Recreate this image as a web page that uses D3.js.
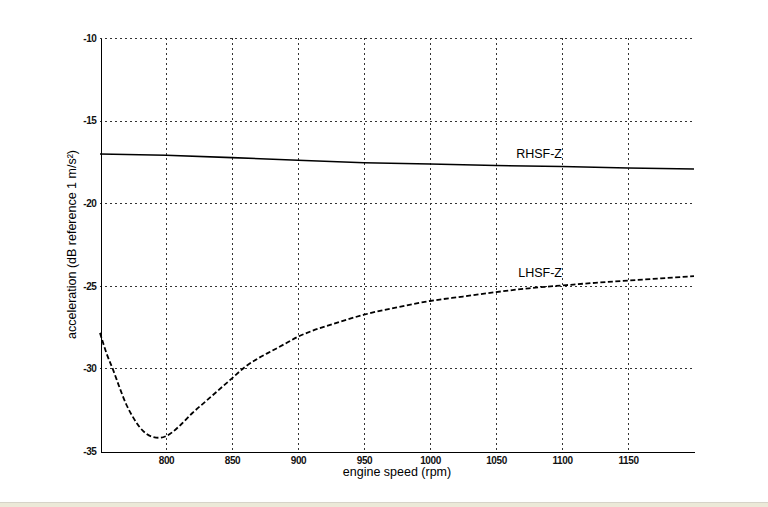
<!DOCTYPE html>
<html>
<head>
<meta charset="utf-8">
<script src="https://cdn.jsdelivr.net/npm/d3@7"></script>
<style>
  html, body { margin: 0; padding: 0; background: #fff; }
  svg { display: block; font-family: "Liberation Sans", Arial, sans-serif; }
</style>
</head>
<body>
<svg id="chart" width="768" height="507"></svg>
<script>
// ---- data ----
const rhsfRpm = [750, 800, 850, 900, 950, 1000, 1050, 1100, 1150, 1200];
const rhsfDb  = [-17.02, -17.10, -17.24, -17.40, -17.55, -17.63, -17.72, -17.78, -17.87, -17.93];

const lhsfRpm = [750, 755, 760, 765, 770, 775, 780, 785, 790, 795, 800, 805, 810, 820, 830, 840, 850, 860, 870, 880, 890, 900, 910, 925, 950, 975, 1000, 1025, 1050, 1075, 1100, 1125, 1150, 1175, 1200];
const lhsfDb  = [-27.85, -29.1, -30.1, -31.2, -32.2, -32.95, -33.55, -33.95, -34.15, -34.2, -34.1, -33.85, -33.5, -32.7, -32.0, -31.3, -30.6, -29.9, -29.38, -28.95, -28.52, -28.08, -27.75, -27.35, -26.75, -26.3, -25.92, -25.65, -25.38, -25.15, -24.98, -24.82, -24.68, -24.55, -24.42];

const xTicks = [800, 850, 900, 950, 1000, 1050, 1100, 1150];
const xTickLabels = ["800", "850", "900", "950", "1000", "1050", "1100", "1150"];
const yTicks = [-35, -30, -25, -20, -15, -10];
const yTickLabels = ["-35", "-30", "-25", "-20", "-15", "-10"];
const seriesNames = ["RHSF-Z", "LHSF-Z"];
const xTitle = "engine speed (rpm)";
const yTitle = "acceleration (dB reference 1 m/s²)";

// ---- layout ----
const svg = d3.select("#chart");
const L = 100, R = 694, T = 38, B = 451;
const x = d3.scaleLinear().domain([750, 1200]).range([L, R]);
const y = d3.scaleLinear().domain([-35, -10]).range([B, T]);

// grid
const grid = svg.append("g").attr("stroke", "#333").attr("stroke-width", 1)
  .attr("stroke-dasharray", "2,3").attr("shape-rendering", "crispEdges");
grid.selectAll("line.v").data(xTicks).join("line")
  .attr("x1", d => Math.round(x(d)) + 0.5).attr("x2", d => Math.round(x(d)) + 0.5)
  .attr("y1", T).attr("y2", B);
grid.selectAll("line.h").data(yTicks.filter(d => d > -35)).join("line")
  .attr("y1", d => Math.round(y(d)) + 0.5).attr("y2", d => Math.round(y(d)) + 0.5)
  .attr("x1", L).attr("x2", R);

// axes
const xAxis = d3.axisBottom(x).tickValues(xTicks)
  .tickFormat((d, i) => xTickLabels[i]).tickSize(0).tickPadding(5);
const yAxis = d3.axisLeft(y).tickValues(yTicks)
  .tickFormat((d, i) => yTickLabels[i]).tickSize(0).tickPadding(4);

const gx = svg.append("g").attr("transform", `translate(0,${B + 0.5})`).call(xAxis);
const gy = svg.append("g").attr("transform", `translate(${L + 0.5},0)`).call(yAxis);
[gx, gy].forEach(g => {
  g.select(".domain").attr("stroke", "#000").attr("stroke-width", 1).attr("shape-rendering", "crispEdges");
  g.selectAll("text").attr("font-size", 10).attr("font-weight", "bold")
    .attr("fill", "#111").attr("letter-spacing", "-0.4px")
    .attr("font-family", "'Liberation Sans', Arial, sans-serif");
});

// lines
const rh = rhsfRpm.map((r, i) => [r, rhsfDb[i]]);
const lh = lhsfRpm.map((r, i) => [r, lhsfDb[i]]);
const lineGen = d3.line().x(d => x(d[0])).y(d => y(d[1]));
const curveGen = d3.line().x(d => x(d[0])).y(d => y(d[1])).curve(d3.curveMonotoneX);

svg.append("path").datum(rh).attr("d", lineGen)
  .attr("fill", "none").attr("stroke", "#000").attr("stroke-width", 1.6);
svg.append("path").datum(lh).attr("d", curveGen)
  .attr("fill", "none").attr("stroke", "#000").attr("stroke-width", 1.8)
  .attr("stroke-dasharray", "5,2.5");

// series labels
svg.append("text").attr("x", x(1100)).attr("y", y(-17.27)).attr("text-anchor", "end")
  .attr("font-size", 12.5).attr("fill", "#000").text(seriesNames[0]);
svg.append("text").attr("x", x(1100)).attr("y", y(-24.47)).attr("text-anchor", "end")
  .attr("font-size", 12.5).attr("fill", "#000").text(seriesNames[1]);

// axis titles
svg.append("text").attr("x", (L + R) / 2).attr("y", 476).attr("text-anchor", "middle")
  .attr("font-size", 12.5).attr("fill", "#000").text(xTitle);
svg.append("text").attr("transform", `translate(76,${(T + B) / 2}) rotate(-90)`)
  .attr("text-anchor", "middle").attr("font-size", 12.5).attr("fill", "#000").text(yTitle);

// bottom window strip (decoration)
svg.append("rect").attr("x", 0).attr("y", 502).attr("width", 768).attr("height", 5).attr("fill", "#ece9d8");
svg.append("line").attr("x1", 0).attr("x2", 768).attr("y1", 502.5).attr("y2", 502.5).attr("stroke", "#d6d3c8");
</script>
</body>
</html>
